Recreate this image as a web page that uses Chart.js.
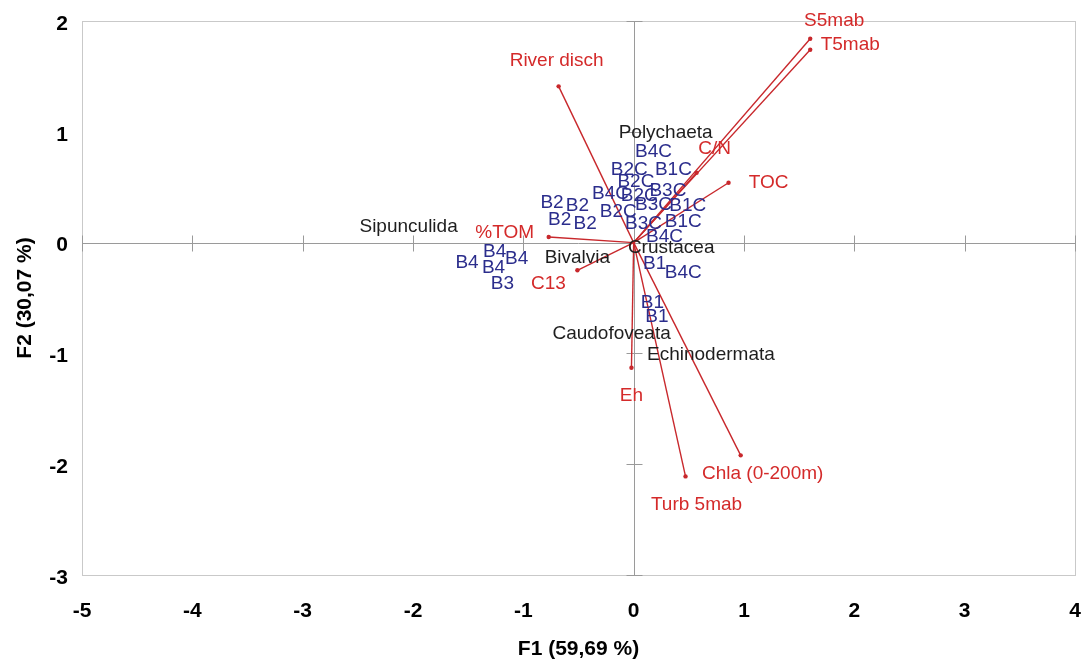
<!DOCTYPE html>
<html>
<head>
<meta charset="utf-8">
<script src="https://cdn.jsdelivr.net/npm/chart.js@4/dist/chart.umd.min.js"></script>
<style>
  html, body { margin: 0; padding: 0; background: #fff; }
  #wrap { width: 1081px; height: 660px; position: relative; }
</style>
</head>
<body>
<div id="wrap"><canvas id="biplot"></canvas></div>
<script>
// Variables (red vectors from the origin)
const varNames = ['S5mab', 'T5mab', 'River disch', 'C/N', 'TOC', '%TOM', 'C13', 'Eh', 'Chla (0-200m)', 'Turb 5mab'];
const varX = [1.60, 1.60, -0.68, 0.57, 0.86, -0.77, -0.51, -0.02, 0.97, 0.47];
const varY = [1.84, 1.74, 1.41, 0.63, 0.54, 0.05, -0.25, -1.13, -1.92, -2.11];

// Observations (blue labels)
const sampleNames = ['B4C', 'B2C', 'B1C', 'B2C', 'B4C', 'B2C', 'B3C', 'B3C', 'B1C', 'B2C', 'B3C', 'B1C', 'B4C',
                     'B1', 'B4C', 'B1', 'B1', 'B2', 'B2', 'B2', 'B2', 'B4', 'B4', 'B4', 'B4', 'B3'];
const sampleX = [0.18, -0.04, 0.36, 0.02, -0.21, 0.05, 0.31, 0.18, 0.49, -0.14, 0.09, 0.45, 0.28,
                 0.19, 0.45, 0.17, 0.21, -0.74, -0.51, -0.67, -0.44, -1.51, -1.26, -1.06, -1.27, -1.19];
const sampleY = [0.82, 0.66, 0.66, 0.55, 0.44, 0.42, 0.47, 0.34, 0.33, 0.28, 0.17, 0.19, 0.05,
                 -0.19, -0.27, -0.54, -0.67, 0.36, 0.33, 0.21, 0.17, -0.18, -0.08, -0.15, -0.23, -0.37];

// Taxa (black labels)
const taxaNames = ['Polychaeta', 'Sipunculida', 'Crustacea', 'Bivalvia', 'Caudofoveata', 'Echinodermata'];
const taxaX = [0.29, -2.04, 0.34, -0.51, -0.20, 0.70];
const taxaY = [0.99, 0.14, -0.05, -0.14, -0.82, -1.01];

// Label placement next to each vector tip, in pixels (styling only)
const varLabelShift = [[24, -18], [40, -5], [-2, -26], [18, -24], [40, 0], [-44, -4], [-29, 13], [0, 28], [22, 18], [11, 28]];

const FONT = '"Liberation Sans", Arial, sans-serif';
const RED_LINE = '#c8282c';
const RED_TEXT = '#d42a2a';
const BLUE = '#2b2d8c';
const BLACK = '#1e1e1e';

const datasets = varNames.map((name, i) => ({
    label: name,
    data: [{x: 0, y: 0}, {x: varX[i], y: varY[i]}],
    showLine: true,
    borderColor: RED_LINE,
    backgroundColor: RED_LINE,
    borderWidth: 1.4,
    pointRadius: [0, 2.2],
    pointBorderWidth: 0
}));

// frame, zero axes and their tick marks
const framePlugin = {
    id: 'frame',
    beforeDatasetsDraw(chart) {
        const {ctx, chartArea: a, scales: {x, y}} = chart;
        const x0 = Math.round(x.getPixelForValue(0)) + 0.5;
        const y0 = Math.round(y.getPixelForValue(0)) + 0.5;
        ctx.save();
        ctx.lineWidth = 1;
        ctx.strokeStyle = '#c9c9c9';
        ctx.strokeRect(Math.round(a.left) + 0.5, Math.round(a.top) + 0.5, Math.round(a.width), Math.round(a.height));
        ctx.strokeStyle = '#9a9a9a';
        ctx.beginPath();
        ctx.moveTo(x0, a.top); ctx.lineTo(x0, a.bottom);
        ctx.moveTo(a.left, y0); ctx.lineTo(a.right, y0);
        x.ticks.forEach(t => {
            const px = Math.round(x.getPixelForValue(t.value)) + 0.5;
            ctx.moveTo(px, y0 - 8); ctx.lineTo(px, y0 + 8);
        });
        y.ticks.forEach(t => {
            const py = Math.round(y.getPixelForValue(t.value)) + 0.5;
            ctx.moveTo(x0 - 8, py); ctx.lineTo(x0 + 8, py);
        });
        ctx.stroke();
        ctx.restore();
    }
};

// text labels for taxa, samples and vectors
const labelPlugin = {
    id: 'labels',
    afterDatasetsDraw(chart) {
        const {ctx, scales: {x, y}} = chart;
        ctx.save();
        ctx.font = '19px ' + FONT;
        ctx.textAlign = 'center';
        ctx.textBaseline = 'middle';
        ctx.fillStyle = BLACK;
        taxaNames.forEach((n, i) => ctx.fillText(n, x.getPixelForValue(taxaX[i]), y.getPixelForValue(taxaY[i])));
        ctx.fillStyle = BLUE;
        sampleNames.forEach((n, i) => ctx.fillText(n, x.getPixelForValue(sampleX[i]), y.getPixelForValue(sampleY[i])));
        ctx.fillStyle = RED_TEXT;
        varNames.forEach((n, i) => {
            const [dx, dy] = varLabelShift[i];
            ctx.fillText(n, x.getPixelForValue(varX[i]) + dx, y.getPixelForValue(varY[i]) + dy);
        });
        ctx.restore();
    }
};

new Chart(document.getElementById('biplot').getContext('2d'), {
    type: 'scatter',
    data: { datasets: datasets },
    options: {
        responsive: true,
        maintainAspectRatio: false,
        animation: false,
        layout: { padding: { top: 21, right: 6, left: 0, bottom: 0 } },
        plugins: {
            legend: { display: false },
            tooltip: { enabled: false }
        },
        scales: {
            x: {
                type: 'linear',
                min: -5,
                max: 4,
                grid: { display: false, drawTicks: false },
                border: { display: false },
                ticks: {
                    stepSize: 1,
                    padding: 24,
                    color: '#000',
                    font: { family: FONT, size: 21, weight: 'bold' }
                },
                title: {
                    display: true,
                    text: 'F1 (59,69 %)',
                    color: '#000',
                    padding: { top: 0, bottom: 0 },
                    font: { family: FONT, size: 21, weight: 'bold', lineHeight: 1 }
                },
                afterFit(scale) {
                    scale.height = 85;
                    scale.paddingLeft = 0;
                    scale.paddingRight = 0;
                }
            },
            y: {
                type: 'linear',
                min: -3,
                max: 2,
                grid: { display: false, drawTicks: false },
                border: { display: false },
                ticks: {
                    stepSize: 1,
                    padding: 14,
                    labelOffset: 3,
                    color: '#000',
                    font: { family: FONT, size: 21, weight: 'bold' }
                },
                title: {
                    display: true,
                    text: 'F2 (30,07 %)',
                    color: '#000',
                    padding: { top: 15, bottom: 0 },
                    font: { family: FONT, size: 21, weight: 'bold', lineHeight: 1 }
                },
                afterFit(scale) {
                    scale.width = 82;
                    scale.paddingTop = 0;
                    scale.paddingBottom = 0;
                }
            }
        }
    },
    plugins: [framePlugin, labelPlugin]
});
</script>
</body>
</html>
